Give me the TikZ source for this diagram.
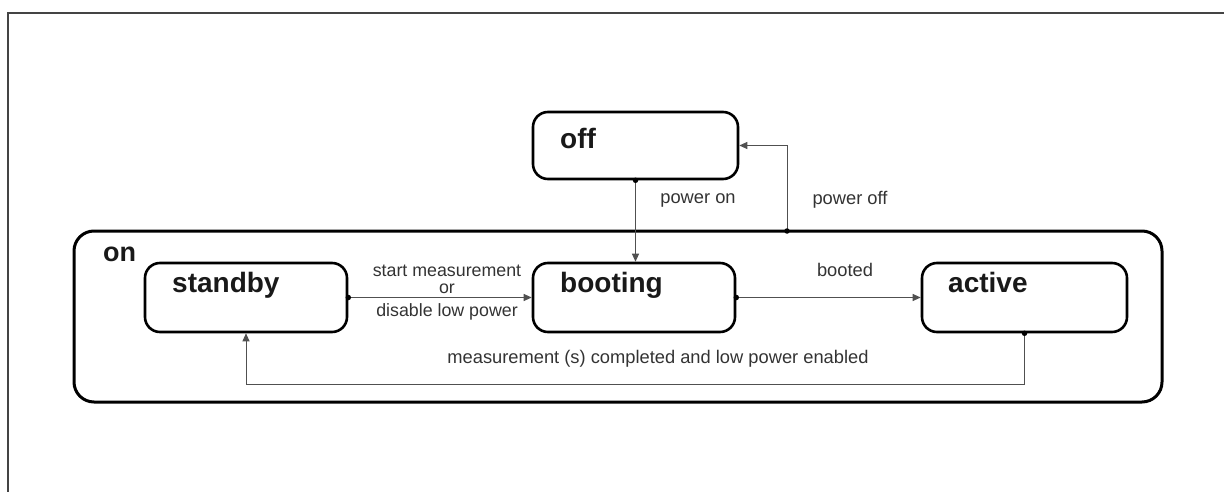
\documentclass[tikz,border=0pt]{standalone}
\usepackage{fontspec}
\setmainfont{Liberation Sans}
\usetikzlibrary{arrows.meta}
\definecolor{frame}{HTML}{444444}
\definecolor{conn}{HTML}{505050}
\definecolor{lbl}{HTML}{333333}
\begin{document}
\begin{tikzpicture}[x=1pt,y=-1pt,
  statebox/.style={draw=black, line width=2.6pt, rounded corners=15pt, inner sep=0pt},
  outerbox/.style={draw=black, line width=3pt, rounded corners=20pt, inner sep=0pt},
  title/.style={font=\fontsize{28}{30}\selectfont\bfseries, anchor=base west, inner sep=0pt, text=black!90},
  lab/.style={font=\fontsize{18.3}{19.5}\selectfont, text=lbl, inner sep=0pt},
  conn/.style={draw=conn, line width=1pt},
  arr/.style={conn, -{Triangle[length=8pt,width=7pt]}},
  dot/.style={fill=black, circle, inner sep=0pt, minimum size=5.5pt}
]
\useasboundingbox (0,0) rectangle (1224,492);
% frame
\draw[frame, line width=1.6pt] (8,492) -- (8,13) -- (1224,13);

% outer "on" composite state
\node[outerbox, minimum width=1088pt, minimum height=171pt] (on) at (618,316.5) {};
\node[title, font=\fontsize{27}{29}\selectfont\bfseries] (ontxt) at (103,261) {on};

% states
\node[statebox, minimum width=205pt, minimum height=67pt] (off) at (635.5,145.5) {};
\node[title] (offtxt) at (560,149) {off};

\node[statebox, minimum width=202pt, minimum height=69pt] (standby) at (246,297.5) {};
\node[title] (standbytxt) at (172,292) {standby};

\node[statebox, minimum width=202pt, minimum height=69pt] (booting) at (634,297.5) {};
\node[title] (bootingtxt) at (560,292) {booting};

\node[statebox, minimum width=205pt, minimum height=69pt] (active) at (1024.5,297.5) {};
\node[title] (activetxt) at (948,292) {active};

% power on
\draw[arr] (off.south) -- (off.south |- booting.north);
\node[dot] (d1) at (off.south) {};
\node[lab] (pon) at (698,200) {power on};

% power off
\coordinate (poff) at (787,231);
\draw[arr] (poff) |- (off.east);
\node[dot] (d2) at (poff) {};
\node[lab] (pofft) at (850,200) {power off};

% standby -> booting
\draw[arr] (standby.east) -- (booting.west);
\node[dot] (d3) at (standby.east) {};
\node[lab, align=center, font=\fontsize{17.8}{19}\selectfont] (sm1) at (447,279) {start measurement\\[-2pt]or};
\node[lab, font=\fontsize{17.8}{19}\selectfont] (sm2) at (447,312) {disable low power};

% booting -> active
\draw[arr] (booting.east) -- (active.west);
\node[dot] (d4) at (booting.east) {};
\node[lab] (bt) at (845,270) {booted};

% active -> standby
\draw[arr] (active.south) -- ++(0,51) -| (standby.south);
\node[dot] (d5) at (active.south) {};
\node[lab] (ret) at (658,359) {measurement (s) completed and low power enabled};
\end{tikzpicture}
\end{document}
